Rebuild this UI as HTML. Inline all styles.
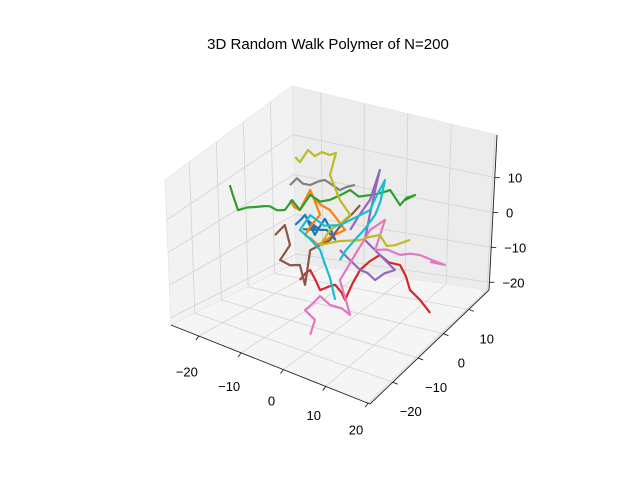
<!DOCTYPE html>
<html><head><meta charset="utf-8"><style>
body{margin:0;background:#fff}
svg{display:block;font-family:"Liberation Sans",sans-serif}
</style></head><body>
<svg id="chart" width="640" height="480" viewBox="0 0 640 480">
<rect width="640" height="480" fill="#fff"/>
<text x="328" y="49" font-size="15" text-anchor="middle">3D Random Walk Polymer of N=200</text>
<g id="panes"></g>
<g id="grid"></g>
<g id="walks"></g>
<g id="axes"></g>
</svg>
<script>
const xTicks=[-20,-10,0,10,20];
const yTicks=[-20,-10,0,10];
const zTicks=[10,0,-10,-20];
const walkColors=["#1f77b4","#ff7f0e","#2ca02c","#d62728","#9467bd","#8c564b","#e377c2","#7f7f7f","#bcbd22","#17becf"];
const walkBlue=[[-8.8,0,-3.5],[-7.5,0,-1.5],[-6.5,0,0.3],[-5.5,0,-2],[-4.2,0,-4.5],[-3,0,-1.5],[-1.9,0,1],[-0.5,0,-1.5],[0.5,0,-4],[-1.5,0,-2],[-3,0,-2.6],[-6,0,-1],[-4,0,-3],[-7,0,-4]];
const walkOrange=[[-10,0,3.1],[-9,0,1.5],[-7.7,0,1.2],[-6.5,0,4.5],[-5.3,0,7.9],[-4,0,4.5],[-3,0,1.7],[-5,0,-2],[-6.5,0,-5.5],[-5,0,-6],[-3.5,0,-7.1],[0,0,-3],[2.8,0,-0.3],[1,0,2],[-0.7,0,4],[-2.5,0,4.5],[-4.2,0,5.5]];
const walkGreen=[[-24,0,1.8],[-23.3,0,-0.7],[-22.1,0,-4.6],[-20,0,-3],[-18.1,0,-2.1],[-16,0,-1],[-14.7,0,-0.5],[-13,0,-1],[-11.2,0,-0.2],[-9.5,0,3.3],[-7.7,0,1.2],[-5.3,0,6.5],[-3,0,5.5],[-0.7,0,6.9],[2,0,9.5],[4,0,11.6],[6,0,10.5],[8.6,0,12],[11,0,13.5],[13.3,0,15.3],[15.6,0,11.9],[17,0,14.5],[19.1,0,16.2],[16.7,0,13.8]];
const walkRed=[[-7.7,0,-18.8],[-6.5,0,-16.5],[-5.3,0,-15],[-4,0,-17.5],[-3,0,-19.8],[-1,0,-18],[0.5,0,-16.9],[2,0,-18.5],[2.8,0,-20.3],[4.5,0,-15],[6.3,0,-10.3],[8.5,0,-7],[10.9,0,-4.2],[13,0,-5.5],[15.6,0,-5.2],[17,0,-8],[17.9,0,-11.4],[20.2,0,-13.3],[22.6,0,-16.1]];
const walkPurple=[[1.6,0,-6.5],[4,0,-8.5],[6.3,0,-10.3],[8,0,-10.5],[9.8,0,-11.8],[12,0,-9],[14.4,0,-7.1],[10.9,0,-4.2],[7.4,0,-1.3],[8.5,0,6],[9.8,0,13.9],[10.9,0,20.1],[8.6,0,10.6],[6,0,5],[4,0,0.2]];
const walkBrown=[[-13.5,0,-8.3],[-11.2,0,-4.5],[-10,0,-9.7],[-11,0,-12],[-12.3,0,-14.9],[-10,0,-15.5],[-7.7,0,-14.5],[-6.5,0,-19.7],[-5.3,0,-9.3],[-3,0,-7],[-0.7,0,-4.6],[1,0,-1],[2.8,0,2.5],[4.5,0,5],[6.3,0,8.2]];
const walkPink=[[-5.3,0,-33.5],[-4.2,0,-28.8],[-6.5,0,-26.9],[-4.5,0,-24],[-3,0,-21.5],[-0.7,0,-23.1],[2,0,-23],[4,0,-24.1],[1.6,0,-15.1],[3.5,0,-10.5],[5.1,0,-6.5],[7,0,-2],[8.6,0,2],[12.1,0,6.3],[9.8,0,-3.2],[12.5,0,-2],[15.6,0,-2.3],[18,0,-1],[20.2,0,-0.5],[23,0,-0.8],[26,0,-1],[22.6,0,-1.5]];
const walkGray=[[-10,0,7.4],[-8.4,0,10],[-7,0,9],[-5.3,0,9.3],[-3.5,0,11],[-1.9,0,12.1],[1.6,0,10.6],[3,0,12],[5.1,0,13.5]];
const walkOlive=[[-8.8,0,15.9],[-7.7,0,14.9],[-5.8,0,19.1],[-4.2,0,18],[-2.6,0,19.8],[-0.7,0,19.7],[0.7,0,20.9],[-0.7,0,14],[1.6,0,7.8],[4,0,4.5],[2,0,1.5],[-0.7,0,-1.7],[-3,0,-6.9],[1.5,0,-4],[6.3,0,-1.8],[8.5,0,0],[10.9,0,1.5],[12.5,0,-1],[14.4,0,0],[17.9,0,2.9]];
const walkCyan=[[0.5,0,-21.2],[-0.7,0,-15.4],[-2,0,-11.5],[-3,0,-8.3],[-5.5,0,-6],[-7.7,0,-4.5],[-5.3,0,0.7],[-2,0,-1],[1.6,0,0.6],[5,0,4],[8.6,0,7.7],[10,0,12],[12.1,0,17.7],[11,0,11],[9.8,0,6.8],[7.5,0,2],[5.1,0,-2.2],[3,0,-6],[1.6,0,-9.4]];
const walks=[walkBlue,walkOrange,walkGreen,walkRed,walkPurple,walkBrown,walkPink,walkGray,walkOlive,walkCyan];
const walkNames=["blue","orange","green","red","purple","brown","pink","gray","olive","cyan"];

function proj(x,y,z){return [333+4.3*x+2.53*y, 225+1.4*x-2.63*y-3.5*z];}
const NS="http://www.w3.org/2000/svg";
function mk(tag,parent,attrs){const e=document.createElementNS(NS,tag);for(const k in attrs)e.setAttribute(k,attrs[k]);parent.appendChild(e);return e;}
function lerp(a,b,t){return [a[0]+(b[0]-a[0])*t,a[1]+(b[1]-a[1])*t];}
const FL=[171,325],BB=[296,263],RB=[489,290],FR=[370,404];
const LT=[165,180],BT=[292,86],RT=[497,135];
const panes=document.getElementById('panes');
function poly(pts,fill,name){const p=mk('polygon',panes,{points:pts.map(q=>q.join(',')).join(' '),fill:fill,stroke:'#e6e6e6','stroke-width':0.8});

}
poly([LT,BT,BB,FL],'#f2f2f2','left-pane');
poly([BT,RT,RB,BB],'#ececec','back-pane');
poly([FL,BB,RB,FR],'#f5f5f5','floor-pane');
const grid=document.getElementById('grid');
function gl(a,b,name){const l=mk('line',grid,{x1:a[0],y1:a[1],x2:b[0],y2:b[1],stroke:'#d3d3d3','stroke-width':0.8});

}
const xf=v=>0.565+v*0.02125, yf=v=>0.617+v*0.0213, zf=v=>0.50-v*0.0225;
xTicks.forEach(v=>{const t=xf(v);const a=lerp(FL,FR,t),b=lerp(BB,RB,t),c=lerp(BT,RT,t);gl(a,b,'x-grid-floor');gl(b,c,'x-grid-wall');});
yTicks.forEach(v=>{const t=yf(v);const a=lerp(FR,RB,t),b=lerp(FL,BB,t),c=lerp(LT,BT,t);gl(a,b,'y-grid-floor');gl(b,c,'y-grid-wall');});
zTicks.forEach(v=>{const t=zf(v);const a=lerp(LT,FL,t),b=lerp(BT,BB,t),c=lerp(RT,RB,t);gl(a,b,'z-grid-left');gl(b,c,'z-grid-back');});
const wg=document.getElementById('walks');
walks.forEach((w,i)=>{const pts=w.map(p=>proj(p[0],p[1],p[2]).join(',')).join(' ');
const pl=mk('polyline',wg,{points:pts,fill:'none',stroke:walkColors[i],'stroke-width':2.2,'stroke-linejoin':'round'});

});
const ax=document.getElementById('axes');
function al(a,b,name){const l=mk('line',ax,{x1:a[0],y1:a[1],x2:b[0],y2:b[1],stroke:'#222','stroke-width':0.9});

}
function tx(p,s,name,anchor){const t=mk('text',ax,{x:p[0],y:p[1],'font-size':13,'text-anchor':anchor||'middle',fill:'#000'});t.textContent=s;

}
al(FL,FR,'x-axis-line');al(FR,RB,'y-axis-line');al(RT,RB,'z-axis-line');
xTicks.forEach(v=>{const t=xf(v);const p=lerp(FL,FR,t);al(p,[p[0]-3,p[1]+4],'x-tick');tx([p[0]-12,p[1]+42-11*t],String(v).replace('-','\u2212'),'x-tick-label');});
yTicks.forEach(v=>{const p=lerp(FR,RB,yf(v));al(p,[p[0]+5,p[1]+2],'y-tick');tx([p[0]+18,p[1]+34],String(v).replace('-','\u2212'),'y-tick-label');});
zTicks.forEach(v=>{const p=lerp(RT,RB,zf(v));al(p,[p[0]+5,p[1]],'z-tick');tx([p[0]+13,p[1]+5],String(v).replace('-','\u2212'),'z-tick-label','start');});
</script>
</body></html>
